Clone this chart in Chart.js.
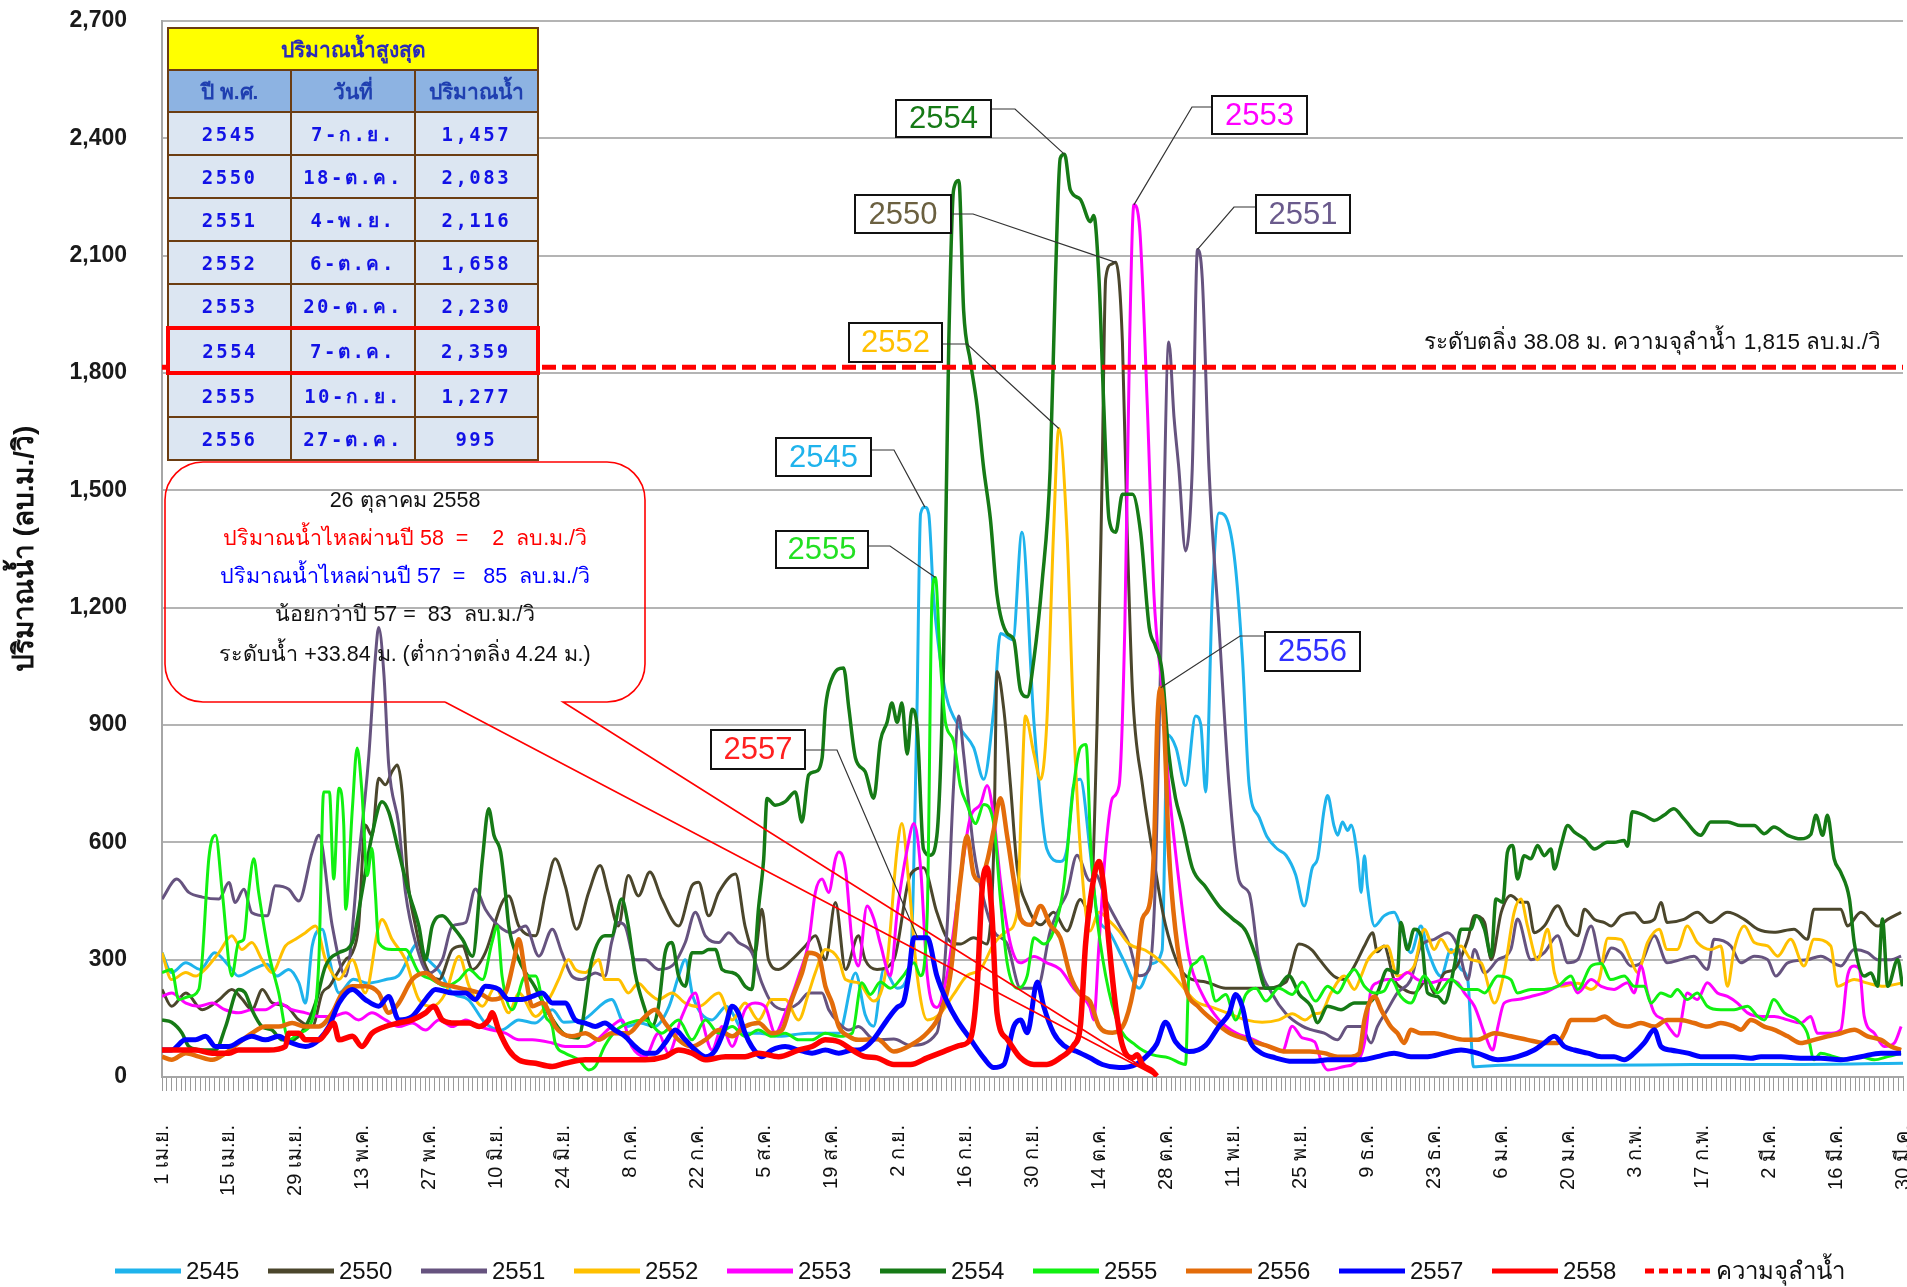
<!DOCTYPE html>
<html>
<head>
<meta charset="utf-8">
<script src="https://cdn.jsdelivr.net/npm/chart.js@4.4.1/dist/chart.umd.min.js"></script>
<style>
	html, body { margin: 0; padding: 0; background: #fff; }
	#wrap { position: relative; width: 1907px; height: 1287px; }
	#grafica { position: absolute; left: 0; top: 0; }
	#tabla { position: absolute; left: 166px; top: 27px; width: 374px; border-collapse: collapse; table-layout: fixed; }
	#tabla td { border: 2px solid #6b3d12; text-align: center; padding: 0; }
	#tabla .titulo { background: #ffff00; color: #2b2bb8; font: bold 21px 'Liberation Sans', sans-serif; height: 40px; }
	#tabla .cab { background: #8db3e2; color: #1f3fb0; font: bold 21px 'Liberation Sans', sans-serif; height: 40px; }
	#tabla .dato { background: #dce6f2; color: #1212e6; font: bold 19px 'DejaVu Sans Mono', monospace; letter-spacing: 2.5px; height: 41px; }
	#tabla tr.marca td { border-top: 4px solid #ff0000; border-bottom: 4px solid #ff0000; }
	#tabla tr.marca td:first-child { border-left: 4px solid #ff0000; }
	#tabla tr.marca td:last-child { border-right: 4px solid #ff0000; }
</style>
</head>
<body>
<div id="wrap">
	<canvas id="grafica" width="1907" height="1287"></canvas>
	<table id="tabla"></table>
</div>
<script>
// ---- datos ----
const tickLabels = ['1 เม.ย.', '15 เม.ย.', '29 เม.ย.', '13 พ.ค.', '27 พ.ค.', '10 มิ.ย.', '24 มิ.ย.', '8 ก.ค.', '22 ก.ค.', '5 ส.ค.', '19 ส.ค.', '2 ก.ย.', '16 ก.ย.', '30 ก.ย.', '14 ต.ค.', '28 ต.ค.', '11 พ.ย.', '25 พ.ย.', '9 ธ.ค.', '23 ธ.ค.', '6 ม.ค.', '20 ม.ค.', '3 ก.พ.', '17 ก.พ.', '2 มี.ค.', '16 มี.ค.', '30 มี.ค.'];

const years = ['2545', '2550', '2551', '2552', '2553', '2554', '2555', '2556', '2557', '2558'];

const capacity = 1815;

const peakYears = ['2545', '2550', '2551', '2552', '2553', '2554', '2555', '2556'];
const peakDates = ['7-ก.ย.', '18-ต.ค.', '4-พ.ย.', '6-ต.ค.', '20-ต.ค.', '7-ต.ค.', '10-ก.ย.', '27-ต.ค.'];
const peakFlows = [1457, 2083, 2116, 1658, 2230, 2359, 1277, 995];

// [día desde 1 เม.ย., ลบ.ม./วิ]
const flow2545 = [[0,318],[2,267],[5,292],[8,275],[11,318],[14,284],[16,258],[19,275],[22,288],[24,258],[26.5,275],[28.6,241],[30,189],[31.4,335],[33.5,378],[35,300],[37,215],[40,250],[43,240],[47,250],[49.5,260],[53.7,344],[55,310],[58,270],[60.7,215],[64,198],[67.6,138],[71,120],[74.6,146],[78,138],[81.6,172],[84,140],[88,146],[94,198],[97,129],[100,138],[103,129],[106,180],[108,258],[109.4,300],[111,206],[115,146],[118,180],[122,112],[125,112],[129,104],[135,112],[141.5,112],[145,266],[147,160],[148.8,130],[150.9,275],[153.7,227],[156.5,292],[157.8,907],[158.6,1440],[159.5,1457],[160.3,1440],[161.3,1231],[162.7,1069],[164,972],[166.9,891],[169.7,842],[171.8,761],[173.9,940],[175.3,1134],[177.9,1118],[179.8,1393],[182.3,907],[185,583],[187.8,551],[189.2,583],[190.6,745],[192,761],[194,583],[195.5,420],[198,372],[201,300],[204.3,227],[207,290],[209.1,324],[210.2,875],[212,842],[214,745],[216.1,923],[217.2,900],[218.2,729],[219.6,1231],[221,1442],[223.1,1409],[224.5,1296],[225.9,1069],[227.3,745],[229.4,664],[231,615],[233.2,583],[235,567],[237,518],[238.8,437],[240.5,535],[241.6,558],[243,686],[243.7,720],[245,644],[245.8,618],[246.8,652],[247.9,630],[248.6,644],[250,558],[250.7,472],[251.4,566],[252,490],[253.5,386],[255.5,412],[257.6,421],[259,386],[261.1,318],[263.2,386],[264.6,326],[267.4,258],[269.5,326],[271.6,275],[273,249],[274.2,26],[280,30],[300,30],[320,32],[340,32],[364,35]];

const flow2550 = [[0,224],[2,181],[5,215],[8.4,172],[12,198],[14.6,224],[16.7,200],[18.8,172],[21,224],[23,190],[26,181],[28.6,146],[31.4,129],[33.5,215],[35,232],[36.3,258],[38.4,300],[39.8,318],[41.1,386],[42.5,644],[43.9,617],[45.3,764],[46.7,747],[48.1,781],[49.2,798],[50.2,729],[51.3,515],[53,386],[55.1,284],[57.9,249],[60.7,326],[62.8,335],[64.9,275],[67.6,318],[71.1,446],[72.5,463],[74.6,386],[78.1,361],[80.2,472],[82.2,558],[84.3,489],[86.7,378],[89.2,472],[91.6,541],[93.3,472],[95.4,386],[97.5,515],[99.6,463],[102,524],[104.5,455],[108,386],[110.8,489],[112.2,498],[114.3,412],[116.4,472],[119.9,519],[121.9,386],[124,318],[125.4,429],[126.8,300],[128.9,275],[131.7,300],[134.5,335],[136.6,361],[138.7,300],[140.8,446],[142.9,275],[145.6,361],[147,300],[149.5,275],[153,300],[156.5,518],[159.2,535],[162,421],[164.1,356],[166.9,340],[169.7,356],[172.5,340],[173.9,583],[174.6,1037],[176,940],[177.4,745],[178.8,535],[180.9,437],[183.7,389],[186.4,421],[189.2,373],[192,454],[194,420],[195.5,900],[196.5,1500],[197.3,2041],[198.5,2078],[199.4,2083],[200.8,1879],[201.8,1393],[202.9,988],[205,745],[207,583],[209.8,389],[214,259],[218.2,243],[222.4,227],[230,227],[235,243],[237.7,340],[240.5,324],[242,300],[245,258],[247.2,249],[249.3,284],[251.4,335],[253.1,369],[254.1,320],[255.5,335],[257.6,249],[259.7,224],[261.8,215],[264.6,249],[266,215],[268.1,266],[270.2,275],[273,352],[274.4,412],[276.5,396],[277.9,300],[280,421],[282,464],[284.1,447],[285.5,447],[286.9,369],[289,386],[291.8,438],[293.9,386],[296,361],[297.4,429],[299.5,403],[301.6,395],[303,386],[305,412],[307.8,420],[309.9,395],[312,403],[313.4,446],[314.7,395],[318.2,403],[321,421],[323.8,395],[327.3,421],[330.8,403],[333.6,378],[337,370],[341.2,378],[344,352],[345.4,429],[348.2,429],[351,429],[352.4,386],[355.2,421],[358.7,386],[360.8,403],[363.6,421]];

const flow2551 = [[0,455],[3.1,506],[5.6,472],[8.4,460],[11.9,455],[14,497],[15.3,446],[17.1,480],[18.8,420],[22,412],[23.7,489],[26.5,480],[28.6,450],[31.4,575],[32.8,618],[35.6,386],[38.4,258],[41.1,558],[43.2,815],[44.6,1072],[45.3,1149],[46.4,1029],[47.4,798],[49.5,644],[50.9,472],[53,344],[55.8,266],[58.6,300],[60.7,386],[63.5,395],[65.5,481],[67.6,429],[70.4,386],[73.2,369],[76,386],[78.8,309],[81.6,378],[83.6,318],[85.7,258],[87.8,249],[90.6,266],[92.6,258],[94,344],[95.4,395],[96.8,386],[98.9,300],[101,300],[103.8,275],[106.6,284],[109.4,344],[111.5,421],[113.6,361],[116.4,344],[118.5,369],[120.5,344],[123.3,318],[125.4,241],[127.5,189],[130.3,172],[133.1,189],[135.2,215],[138,215],[139.4,172],[141.5,138],[143.6,120],[145.6,129],[149,95],[153,97],[156.5,81],[162,113],[164.1,373],[165.5,745],[166.6,923],[167.6,826],[169.7,583],[171.8,454],[173.9,373],[176.7,340],[179.5,227],[183,227],[185.7,373],[187.8,437],[189.2,470],[191.3,567],[194,502],[195.2,518],[197.3,454],[200.1,389],[202.2,340],[204.3,259],[206.4,275],[207.7,502],[209.1,1231],[210.5,1879],[211.6,1685],[212.6,1555],[214,1345],[215.4,1555],[216.5,2116],[217.5,2041],[218.9,1555],[221,1150],[223.1,745],[225.2,502],[227.3,470],[229.4,292],[232.2,211],[235,162],[238.4,130],[240.2,121],[243,112],[245.8,95],[247.9,129],[250.7,129],[252.8,87],[254.1,129],[256.2,172],[258.3,215],[261.1,249],[263.2,335],[266,352],[268.8,369],[270.9,335],[273,249],[274.4,326],[276.5,266],[279.3,300],[282,326],[283.4,404],[286.2,300],[289,318],[291.8,361],[293.9,292],[296,300],[298.8,386],[301,290],[303,330],[305,318],[307.1,284],[309.2,292],[312,361],[314.7,292],[317.5,300],[320.3,309],[323.1,275],[324.5,352],[328,335],[330.1,292],[332.9,309],[335.7,300],[337.4,258],[339.9,292],[344,300],[346.8,309],[351,284],[353.8,326],[356.6,318],[358.7,300],[361.5,300],[363.6,309]];

const flow2552 = [[0,318],[2,249],[5,267],[7,258],[9,275],[11.9,318],[14.6,361],[16.7,326],[18.8,344],[20.9,300],[23,267],[25.8,335],[27.9,352],[30,369],[32.1,386],[34.2,300],[37,249],[39.8,300],[42.5,215],[45.3,386],[46,403],[48.1,352],[50.9,300],[53.7,198],[56.5,181],[59.3,215],[62.1,309],[64.2,232],[67,181],[69.7,230],[72.5,164],[74.6,215],[78.1,155],[81.6,215],[82.9,249],[85,300],[86.4,275],[88.5,267],[91.3,300],[92.6,249],[95.4,249],[97.5,215],[99.6,240],[101.7,215],[103.8,198],[106.6,215],[109.4,189],[112.2,180],[116.4,215],[119.2,146],[121.9,189],[124.7,146],[127.5,198],[130.3,198],[133.1,146],[135.2,215],[136.6,267],[138.7,326],[141.5,300],[142.9,249],[145.6,241],[148.8,194],[151.6,292],[153.7,583],[154.7,648],[156.1,502],[157.9,259],[160,146],[162.7,162],[165.5,211],[168.3,259],[171.1,275],[173.9,340],[176.7,373],[178.8,421],[179.8,745],[180.5,923],[182.3,826],[183.7,761],[185,907],[186.4,1393],[187.5,1658],[189.2,1393],[190.6,907],[192,583],[194,373],[195.9,421],[198,400],[200.1,373],[202.2,340],[205.6,324],[209.1,292],[212.6,243],[216.1,194],[219.6,178],[223.1,162],[226.6,146],[230,140],[233.5,146],[236.3,162],[239,146],[241,162],[242.3,164],[244.4,215],[247.2,258],[249.3,224],[250.7,258],[252.1,300],[254.1,326],[256.2,335],[258.3,258],[260.4,267],[261.8,284],[263.9,378],[266,326],[267.4,352],[269.5,318],[271.6,335],[273.7,300],[275.8,292],[278.6,189],[280.6,267],[282.7,421],[284.1,455],[285.5,386],[287.6,300],[289.7,378],[291.1,267],[292.5,232],[296,240],[298.8,224],[300.5,250],[302.3,355],[305,352],[307.1,300],[308.5,267],[310.6,344],[313,378],[314.7,326],[316.8,326],[318.9,386],[321,344],[323.8,326],[325.9,335],[327.3,232],[328.7,326],[330.8,386],[332.9,344],[335.7,335],[337.8,309],[340.5,352],[343.3,284],[345.4,352],[348.9,335],[350.3,232],[353.8,249],[356.6,240],[360,232],[363.6,240]];

const flow2553 = [[0,206],[2,215],[5,189],[7.7,181],[10.5,189],[13.2,172],[16,164],[18.8,172],[21.6,172],[24.4,189],[27.2,172],[30,164],[32.8,155],[35.6,155],[38.4,164],[41.1,146],[43.9,164],[46.7,146],[49.5,129],[52.3,138],[55.1,120],[57.9,146],[60.7,129],[63.5,146],[66.3,129],[69,120],[71.8,112],[74.6,95],[77.4,95],[81.6,87],[84.3,78],[88.5,78],[94,129],[96.1,146],[98.2,78],[101,52],[103.8,112],[105.9,61],[108.7,155],[111.5,215],[112.9,146],[115,69],[117.1,129],[119.2,78],[121.9,172],[124,189],[126.1,180],[128.2,112],[130.3,164],[133.1,258],[135.2,344],[136.6,472],[138,506],[139.4,472],[140.8,558],[141.5,575],[142.9,532],[144.3,344],[145.6,284],[147.4,437],[148.8,405],[150.2,340],[152.3,259],[153.7,421],[155.8,583],[157.2,648],[158.6,535],[160,259],[162,178],[164.1,259],[166.9,502],[169,664],[171.1,697],[172.5,745],[173.9,664],[175.3,502],[177.4,340],[179.5,292],[182.3,308],[185,292],[187.8,275],[190.6,227],[194,178],[194.8,146],[195.9,340],[197.3,583],[198.7,713],[200.1,745],[201.3,1150],[202.3,1879],[203.2,2230],[204.4,2171],[206,1717],[207.4,1231],[209.1,988],[210.5,745],[212.6,502],[214.7,308],[217.5,211],[221,146],[224.5,113],[228,97],[230.8,81],[234.2,65],[236.3,130],[238.4,100],[241,90],[242.3,44],[243.7,18],[247.2,27],[249.3,35],[251.4,87],[252.8,224],[254.1,241],[256.2,249],[258.3,249],[260.4,267],[262.5,249],[265.3,241],[268.1,249],[270.9,241],[272.3,215],[274.4,181],[276.5,112],[278.2,69],[279.3,129],[280.6,189],[283.4,198],[286.2,206],[289,215],[291.8,232],[294.6,241],[296,215],[298.8,249],[300.9,232],[303.6,224],[306.4,241],[307.8,215],[309.2,284],[310.6,215],[312,164],[314,146],[315.4,121],[316.8,104],[318.9,215],[321,198],[323.1,241],[325.2,215],[327.3,206],[329.4,189],[331.5,164],[334.3,155],[337.1,155],[339.9,146],[342.6,138],[344.7,155],[346.1,112],[349,112],[351,121],[352.4,258],[353.8,284],[354.9,275],[355.9,155],[358,112],[360.1,78],[362.2,87],[363.6,129]];

const flow2554 = [[0,146],[2,140],[4.2,112],[5.6,78],[8.4,69],[11.2,69],[13.3,129],[16,224],[17.4,215],[18.8,172],[20.9,129],[23,120],[25.1,95],[27.2,95],[30,129],[32.1,189],[34.2,284],[37,318],[39.8,344],[41.8,472],[43.9,618],[46,704],[47.4,678],[49.5,575],[51.6,472],[53.7,386],[55.1,300],[56.5,386],[58.6,412],[60.7,386],[62.8,352],[64.9,309],[67,558],[68.3,686],[69.4,618],[70.8,575],[71.8,472],[72.5,386],[74.6,300],[78,230],[81,160],[84,110],[87,100],[89.9,300],[92.6,361],[94,361],[96.1,455],[97.5,386],[98.9,267],[101,172],[102.4,129],[103.8,180],[105.2,318],[106.6,344],[108,258],[109.4,232],[110.8,318],[112.9,318],[114.3,326],[115.7,326],[117.1,275],[119.2,267],[120.5,258],[121.9,232],[123.3,224],[124.7,429],[125.8,558],[126.5,712],[128.2,695],[130.3,704],[132.4,729],[133.8,652],[135.2,772],[136.6,781],[138,815],[138.7,943],[140.1,1020],[142.5,1046],[143.6,943],[145,815],[147,781],[148.8,713],[150.2,859],[151.6,907],[152.6,956],[153.7,907],[154.7,956],[155.8,826],[156.8,940],[157.9,891],[159.2,583],[160.6,567],[162,616],[163.4,1069],[164.5,1879],[165.5,2268],[166.6,2292],[167.6,1960],[169,1831],[170.4,1717],[171.8,1555],[173.2,1426],[174.6,1231],[176.7,1134],[178.1,1118],[179.5,988],[180.9,972],[182.3,1069],[184,1264],[185.7,1555],[186.8,2041],[187.8,2349],[188.7,2359],[189.9,2268],[192,2244],[194.1,2187],[194.8,2203],[195.9,2041],[196.9,1717],[198,1426],[199.4,1393],[200.8,1490],[202.9,1490],[204.6,1393],[206.4,1150],[207.7,1102],[209.1,1037],[210.5,826],[211.9,713],[213.3,648],[215.4,535],[218.2,486],[221,437],[223.8,405],[226.6,373],[228.7,308],[230.8,227],[233,227],[235.6,259],[237.8,211],[240.2,181],[241.6,139],[243.7,181],[246.5,172],[249.3,189],[252.1,189],[254.1,215],[256.2,275],[258.3,266],[259,395],[260.4,326],[261.8,378],[263.2,361],[264.6,215],[266.7,206],[268.1,189],[270.2,284],[271.6,378],[273.7,378],[274.7,412],[276.5,378],[277.9,309],[278.9,455],[280.3,447],[281.3,575],[282.4,592],[283.4,506],[284.8,566],[286.2,558],[287.6,592],[289,566],[290.4,583],[291.1,532],[292.5,592],[293.9,643],[295.3,626],[297.4,609],[299.5,583],[302.2,600],[303.6,600],[305.7,605],[306.4,590],[307.4,678],[309.9,669],[312,656],[314,669],[316.1,686],[318.2,660],[321.7,618],[323.8,652],[325.9,652],[327.3,652],[330.1,643],[332.9,643],[335,622],[337,639],[339.9,618],[342.6,609],[344.7,620],[345.8,669],[347.2,618],[348.2,669],[349.6,558],[351,523],[352.8,455],[353.8,344],[355.9,258],[357.3,266],[358.7,232],[359.7,404],[360.8,232],[362.9,300],[363.9,232]];

const flow2555 = [[0,267],[2,275],[3.5,198],[5.6,206],[7.7,224],[8.4,300],[9.8,560],[11.2,618],[12.6,472],[14.6,258],[16,344],[17.1,352],[18.1,472],[19.2,558],[20.2,472],[22.3,318],[24.4,215],[26.5,95],[28.6,112],[31.4,146],[32.8,300],[33.8,729],[35,729],[35.9,506],[37,738],[38,644],[38.4,429],[39.8,686],[40.8,841],[41.8,729],[42.9,515],[43.9,584],[44.6,472],[45.3,344],[48.1,326],[50.9,326],[53.7,267],[56.5,249],[59.3,232],[62.1,249],[64.2,275],[67,249],[69,344],[70.1,386],[71.1,258],[73.2,172],[76,258],[78.1,258],[80.2,155],[81.6,129],[82.2,87],[84.3,61],[87.1,44],[89.2,18],[90.6,27],[92.6,80],[95,120],[97.5,138],[101,146],[104.5,112],[108,146],[110.8,95],[113.6,146],[116.4,112],[119.2,129],[121.9,104],[124.7,120],[127.5,104],[130.3,112],[133.1,95],[135.9,95],[138.7,112],[141.5,104],[144.3,112],[146.3,241],[148.1,211],[150.2,243],[152.3,227],[155,259],[157.2,292],[158.6,259],[160,421],[161,1231],[161.7,1277],[162.7,1069],[163.8,907],[165.5,859],[166.9,745],[168.3,697],[170.1,648],[171.8,697],[173.9,648],[175.3,454],[176.7,292],[178.8,227],[180.9,259],[182.3,356],[184.4,340],[186.4,373],[188.5,486],[190.6,745],[192,842],[193.2,850],[194.2,583],[195.2,437],[197.3,259],[200.1,130],[203.6,81],[207,57],[210.5,49],[214,32],[214.7,259],[216.1,292],[217.5,308],[218.9,259],[220.3,194],[222.4,211],[224.5,146],[226.6,211],[228.7,227],[230.8,194],[233.5,227],[236.3,211],[238.4,243],[241.2,194],[243.7,232],[245.8,215],[247.9,258],[249.3,275],[251.4,232],[253.5,215],[255.5,220],[257,249],[259,206],[261.1,189],[263.9,258],[266.7,215],[269.5,249],[272.3,224],[275,224],[276.5,215],[279.3,258],[282,249],[283.4,215],[286.2,224],[289,224],[291.8,232],[294.6,258],[296,224],[298.8,284],[300.9,290],[302.9,249],[305.7,258],[307.8,232],[309.9,232],[311.3,189],[313.4,215],[315.4,206],[316.8,224],[318.9,198],[321,215],[323.1,181],[325.9,172],[328.7,172],[331.5,181],[333.6,155],[335,146],[337,198],[339.2,164],[341.9,146],[344,112],[345.4,44],[346.8,61],[349.6,52],[352.4,44],[355.2,52],[358,44],[360.8,52],[363.6,61]];

const flow2556 = [[0,52],[2,44],[5,61],[7.7,52],[10.5,44],[13.3,61],[16,87],[18.8,112],[21.6,129],[24.4,129],[27.2,138],[30,129],[32.8,129],[35.6,164],[37.7,215],[39.8,232],[42.5,232],[45.3,215],[47.4,164],[49.5,189],[52.3,249],[55.1,266],[57.9,241],[60.7,232],[63.5,224],[66.3,215],[69,198],[71.8,215],[73.6,300],[74.6,352],[76,258],[77.4,181],[79.5,190],[81.6,146],[82.2,129],[85.7,104],[88.5,112],[91.3,95],[94,112],[97.5,112],[100.3,146],[103.1,172],[105.2,138],[108,95],[110.8,78],[113.6,95],[116.4,120],[119.2,104],[121.9,129],[124.7,138],[127.5,112],[129.6,120],[131.7,198],[133.8,266],[135.2,318],[137.3,309],[138.7,232],[140.1,189],[141.5,129],[143.6,104],[145.6,95],[149.5,97],[153,65],[156.5,81],[160,113],[162.7,162],[164.8,259],[166.9,502],[168.3,616],[169.7,518],[171.1,502],[172.5,551],[173.9,632],[175.3,713],[176.7,616],[178.1,502],[179.5,405],[181.6,389],[183.7,437],[185.7,389],[187.8,356],[189.9,259],[192,211],[194,194],[195.9,130],[198.7,113],[201.5,146],[203.6,259],[205,405],[206.4,437],[207.4,583],[208.1,907],[208.8,995],[209.5,907],[210.5,583],[211.9,373],[214,227],[216.8,178],[219.6,146],[223.1,113],[226.6,97],[230.8,81],[235,65],[240,65],[243,61],[245.8,52],[248.6,52],[250.3,60],[251.4,146],[252.4,189],[253.5,206],[254.9,172],[256.9,129],[258.3,112],[259.7,87],[261.1,121],[263.2,112],[266,112],[268.8,104],[272.3,95],[275,95],[278.6,112],[282,104],[285.5,95],[289,87],[291.8,87],[293.2,112],[294.6,146],[296.7,146],[299.5,146],[301.6,155],[303.6,138],[306.4,129],[309.2,138],[312,129],[314.7,146],[317.5,146],[320.3,138],[323.1,129],[325.9,138],[328.7,129],[330.1,121],[332.2,146],[335,129],[337,121],[339.9,104],[342.6,87],[345.4,95],[348.2,104],[351,112],[353.8,121],[356.6,104],[359.4,95],[361.5,78],[363.6,69]];

const flow2557 = [[0,69],[2,69],[4.9,95],[7,95],[9.1,104],[11.2,78],[14,78],[16.7,95],[18.8,104],[21.6,95],[24.4,104],[26.5,90],[30,78],[32.8,95],[34.9,129],[37,189],[39.8,224],[42.5,198],[45.3,181],[47.4,206],[49.5,146],[52.3,155],[55.1,198],[57.2,224],[60.7,215],[63.5,215],[65.5,198],[67.6,232],[70.4,224],[72.5,198],[75.3,198],[77.4,206],[79.5,215],[81.6,189],[84.3,189],[86.4,146],[88.5,138],[90.6,129],[92.6,138],[94.7,120],[96.8,104],[98.9,78],[101,61],[103.1,61],[105.2,87],[107.3,120],[109.4,95],[111.5,69],[113.6,52],[115.7,69],[117.8,129],[119.2,181],[120.5,164],[121.9,112],[123.3,78],[125.4,52],[127.5,69],[130.3,78],[133.1,69],[135.9,61],[138.7,69],[141.5,61],[144.3,69],[146,70],[148.8,97],[151.6,146],[153.7,178],[155.1,194],[156.1,259],[157.2,356],[160,356],[162,259],[164.1,194],[166.2,146],[169,97],[171.8,49],[173.9,24],[176,32],[178.1,130],[179.5,146],[180.9,113],[183,243],[184.4,178],[186.4,113],[188.5,81],[191.3,65],[194,49],[196.6,32],[200.1,24],[203.6,32],[206.4,60],[208,85],[209.8,140],[211.9,90],[214.7,65],[218.2,81],[221,130],[223.1,162],[224.5,211],[225.9,178],[227.3,97],[229.4,65],[232.8,49],[236.3,40],[241,40],[243.7,44],[247.2,44],[250.7,44],[254.1,52],[257.6,61],[261.1,52],[264.6,52],[268.1,61],[271.6,69],[275,61],[279.3,44],[283.4,52],[286.9,69],[289,87],[291.1,104],[293.2,78],[295.3,69],[298.1,61],[300.9,52],[303.6,52],[305.7,44],[307.8,61],[309.9,87],[312,121],[313.4,78],[315.4,69],[319,61],[321.7,52],[325,52],[328.7,52],[332.2,48],[334.3,52],[338.5,52],[342.6,48],[346.8,48],[351,44],[355.2,52],[359.4,61],[363.6,61]];

const flow2558 = [[0,69],[3.5,69],[7,69],[10.5,61],[14,61],[16,69],[18.8,69],[22.3,69],[25.8,78],[26.5,112],[28.6,112],[30,95],[32.8,95],[34.2,112],[35.9,138],[37,95],[39.8,104],[41.8,78],[43.9,112],[46.7,129],[49.5,138],[52.3,146],[55.1,164],[56.8,181],[58.6,146],[61.4,138],[64.2,138],[66.3,129],[68.3,146],[69,164],[70.4,120],[72.5,69],[74.6,44],[78.1,35],[81.6,27],[84.3,35],[88.5,44],[92.6,44],[96.8,44],[101,44],[105.2,52],[108,69],[110.8,61],[113.6,44],[117.8,52],[121.9,52],[124.7,61],[128.9,52],[133.1,69],[135.9,78],[138.7,95],[141.5,90],[144.3,69],[147,52],[149.5,49],[153,32],[156.5,32],[160,49],[163.4,65],[166.9,81],[169,97],[170.4,227],[171.5,486],[172.5,535],[173.5,421],[174.6,162],[176.7,97],[179.5,49],[182.3,32],[185,32],[187.8,49],[190.6,81],[192,130],[193.1,340],[194.5,486],[195.9,551],[196.9,486],[198,340],[199.4,178],[200.8,81],[202.9,49],[203.9,57],[205,32],[207,16],[208,2]];

// ---- estilos ----
const seriesFlows = [flow2545, flow2550, flow2551, flow2552, flow2553, flow2554, flow2555, flow2556, flow2557, flow2558];
const colores = ['#1fb3ec', '#4b462c', '#66537f', '#ffc000', '#ff00ff', '#167a16', '#11f011', '#e36c0a', '#0000ff', '#ff0000'];
const grosores = [3, 3, 3, 3, 3, 3.5, 3, 4.5, 5, 5.5];

// cajas de etiqueta: [x, y, ancho, alto], codo, y punto objetivo [día, valor]
const etiquetas = [
	{ t: '2554', c: '#167a16', box: [896, 100, 95, 37], p: [[991, 109], [1015, 109]], tgt: [188.7, 2359] },
	{ t: '2553', c: '#ff00ff', box: [1212, 96, 95, 38], p: [[1212, 107], [1192, 107]], tgt: [203.2, 2230] },
	{ t: '2550', c: '#6b6040', box: [855, 195, 96, 38], p: [[951, 214], [973, 214]], tgt: [199.4, 2083] },
	{ t: '2551', c: '#6a5a8c', box: [1256, 195, 94, 38], p: [[1256, 207], [1234, 207]], tgt: [216.5, 2116] },
	{ t: '2552', c: '#ffc000', box: [849, 323, 93, 39], p: [[942, 344], [967, 344]], tgt: [187.5, 1658] },
	{ t: '2545', c: '#1fb3ec', box: [776, 438, 95, 38], p: [[871, 450], [894, 450]], tgt: [159.5, 1457] },
	{ t: '2555', c: '#22e022', box: [776, 531, 92, 37], p: [[868, 546], [890, 546]], tgt: [161.7, 1277] },
	{ t: '2556', c: '#3030ff', box: [1265, 632, 95, 39], p: [[1265, 636], [1240, 636]], tgt: [208.8, 995] },
	{ t: '2557', c: '#ff2020', box: [711, 730, 94, 39], p: [[805, 750], [837, 750]], tgt: [158, 356] },
];

// ---- tabla ----
(function () {
	const tabla = document.getElementById('tabla');
	let html = '<tr><td class="titulo" colspan="3">ปริมาณน้ำสูงสุด</td></tr>';
	html += '<tr><td class="cab" style="width:121px">ปี พ.ศ.</td><td class="cab" style="width:133px">วันที่</td><td class="cab">ปริมาณน้ำ</td></tr>';
	peakYears.forEach((y, i) => {
		const cls = y === '2554' ? ' class="marca"' : '';
		html += `<tr${cls}><td class="dato">${y}</td><td class="dato">${peakDates[i]}</td><td class="dato">${peakFlows[i].toLocaleString('en-US')}</td></tr>`;
	});
	tabla.innerHTML = html;
})();

// ---- dibujos extra ----
const extras = {
	id: 'extras',
	afterDatasetsDraw(chart) {
		const ctx = chart.ctx;
		const xs = chart.scales.x;
		const ys = chart.scales.y;
		ctx.save();

		// texto de capacidad
		ctx.fillStyle = '#111';
		ctx.font = "22.5px 'Liberation Sans', sans-serif";
		ctx.textAlign = 'right';
		ctx.textBaseline = 'alphabetic';
		ctx.fillText('ระดับตลิ่ง 38.08 ม. ความจุลำน้ำ 1,815 ลบ.ม./วิ', 1881, 349);

		// etiquetas con líneas guía
		etiquetas.forEach((e) => {
			const tx = xs.getPixelForValue(e.tgt[0]);
			const ty = ys.getPixelForValue(e.tgt[1]);
			ctx.strokeStyle = '#333';
			ctx.lineWidth = 1.2;
			ctx.beginPath();
			ctx.moveTo(e.p[0][0], e.p[0][1]);
			ctx.lineTo(e.p[1][0], e.p[1][1]);
			ctx.lineTo(tx, ty);
			ctx.stroke();
			const [bx, by, bw, bh] = e.box;
			ctx.fillStyle = '#fff';
			ctx.fillRect(bx, by, bw, bh);
			ctx.strokeStyle = '#111';
			ctx.lineWidth = 2;
			ctx.strokeRect(bx, by, bw, bh);
			ctx.fillStyle = e.c;
			ctx.font = "31px 'Liberation Sans', sans-serif";
			ctx.textAlign = 'center';
			ctx.textBaseline = 'middle';
			ctx.fillText(e.t, bx + bw / 2, by + bh / 2 + 1);
		});

		// globo del 26 ตุลาคม 2558
		const px = xs.getPixelForValue(208);
		const py = ys.getPixelForValue(2);
		const L = 165, T = 462, R = 645, B = 702, r = 38;
		ctx.strokeStyle = '#ff0000';
		ctx.lineWidth = 1.6;
		ctx.beginPath();
		ctx.moveTo(445, B);
		ctx.lineTo(L + r, B);
		ctx.arcTo(L, B, L, B - r, r);
		ctx.lineTo(L, T + r);
		ctx.arcTo(L, T, L + r, T, r);
		ctx.lineTo(R - r, T);
		ctx.arcTo(R, T, R, T + r, r);
		ctx.lineTo(R, B - r);
		ctx.arcTo(R, B, R - r, B, r);
		ctx.lineTo(563, B);
		ctx.lineTo(px, py);
		ctx.lineTo(445, B);
		ctx.stroke();

		const lineas = [
			['26 ตุลาคม 2558', '#111', 501],
			['ปริมาณน้ำไหลผ่านปี 58  =    2  ลบ.ม./วิ', '#ff0000', 539],
			['ปริมาณน้ำไหลผ่านปี 57  =   85  ลบ.ม./วิ', '#0000ff', 577],
			['น้อยกว่าปี 57 =  83  ลบ.ม./วิ', '#111', 615],
			['ระดับน้ำ +33.84 ม. (ต่ำกว่าตลิ่ง 4.24 ม.)', '#111', 655],
		];
		ctx.font = "21.5px 'Liberation Sans', sans-serif";
		ctx.textAlign = 'center';
		ctx.textBaseline = 'middle';
		lineas.forEach(([txt, col, y]) => {
			ctx.fillStyle = col;
			ctx.fillText(txt, 405, y);
		});

		// leyenda
		let lx = 115;
		const ly = 1271;
		ctx.font = "24px 'Liberation Sans', sans-serif";
		ctx.textAlign = 'left';
		chart.data.datasets.forEach((ds) => {
			ctx.strokeStyle = ds.borderColor;
			ctx.lineWidth = 5;
			ctx.setLineDash(ds.borderDash && ds.borderDash.length ? [9, 5] : []);
			ctx.beginPath();
			ctx.moveTo(lx, ly);
			ctx.lineTo(lx + 66, ly);
			ctx.stroke();
			ctx.setLineDash([]);
			ctx.fillStyle = '#111';
			ctx.fillText(ds.label, lx + 71, ly + 1);
			lx += 153;
		});

		ctx.restore();
	},
};

const datasets = years.map((y, i) => ({
	label: y,
	data: seriesFlows[i].slice().sort((a, b) => a[0] - b[0]),
	borderColor: colores[i],
	backgroundColor: colores[i],
	borderWidth: grosores[i],
	pointRadius: 0,
	cubicInterpolationMode: 'monotone',
	order: 10 - i,
}));

datasets.push({
	label: 'ความจุลำน้ำ',
	data: [[0, capacity], [364, capacity]],
	borderColor: '#ff0000',
	backgroundColor: '#ff0000',
	borderWidth: 5,
	borderDash: [14, 6],
	pointRadius: 0,
	order: 0,
});

Chart.defaults.font.family = "'Liberation Sans', 'DejaVu Sans', sans-serif";
Chart.defaults.color = '#111';

new Chart(document.getElementById('grafica'), {
	type: 'line',
	data: { datasets },
	options: {
		responsive: false,
		animation: false,
		devicePixelRatio: 1,
		layout: { padding: { left: 0, top: 21, right: 4, bottom: 0 } },
		plugins: {
			legend: { display: false },
			tooltip: { enabled: false },
		},
		scales: {
			x: {
				type: 'linear',
				min: 0,
				max: 364,
				afterFit(scale) {
					scale.height = 210;
					scale.paddingLeft = 0;
					scale.paddingRight = 0;
				},
				grid: {
					drawOnChartArea: false,
					drawTicks: true,
					tickLength: 14,
					tickColor: '#9a9a9a',
					lineWidth: 1,
				},
				border: { color: '#a6a6a6', width: 2 },
				ticks: {
					stepSize: 1,
					autoSkip: false,
					includeBounds: false,
					minRotation: 90,
					maxRotation: 90,
					padding: 34,
					font: { size: 20 },
					color: '#111',
					callback: (v) => (v >= 0 && v % 14 === 0 ? tickLabels[v / 14] || '' : ''),
				},
			},
			y: {
				min: 0,
				max: 2700,
				afterFit(scale) {
					scale.width = 162;
					scale.paddingTop = 0;
					scale.paddingBottom = 0;
				},
				grid: { color: '#b4b4b4', lineWidth: 2, drawTicks: true, tickLength: 31, tickColor: 'rgba(0,0,0,0)' },
				border: { color: '#a6a6a6', width: 2 },
				ticks: {
					stepSize: 300,
					padding: 4,
					font: { size: 23, weight: 'bold' },
					color: '#1a1a1a',
					callback: (v) => v.toLocaleString('en-US'),
				},
				title: {
					display: true,
					text: 'ปริมาณน้ำ (ลบ.ม./วิ)',
					font: { size: 28, weight: 'bold' },
					color: '#111',
					padding: { top: 8, bottom: 0 },
				},
			},
		},
	},
	plugins: [extras],
});
</script>
</body>
</html>
